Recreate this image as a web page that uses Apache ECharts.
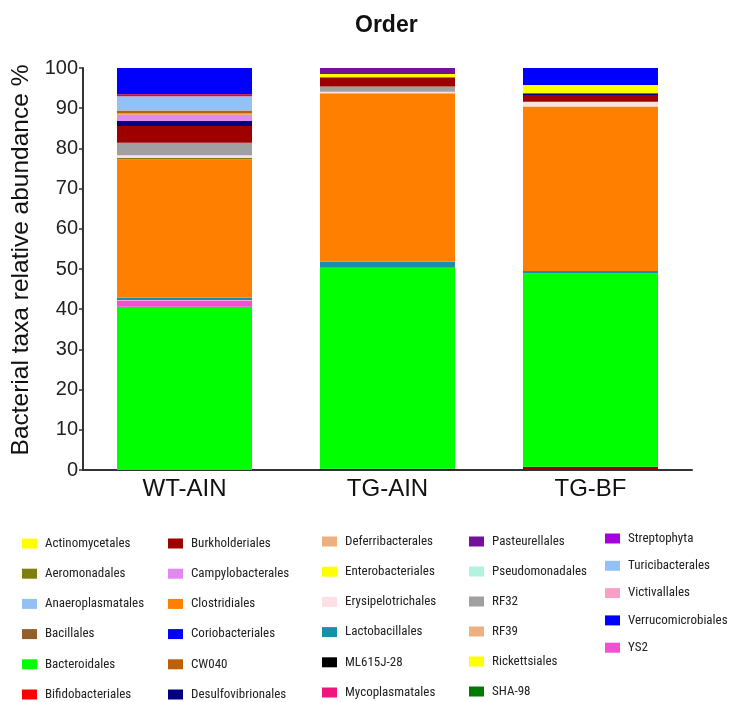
<!DOCTYPE html>
<html>
<head>
<meta charset="utf-8">
<script src="https://cdn.jsdelivr.net/npm/echarts@6/dist/echarts.min.js"></script>
<style>
  html, body { margin: 0; padding: 0; background: #fff; }
  #chart { width: 732px; height: 702px; }
</style>
</head>
<body>
<div id="chart"></div>
<script>
// Groups on the x axis
const categories = ['WT-AIN', 'TG-AIN', 'TG-BF'];
const yTicks = [0, 10, 20, 30, 40, 50, 60, 70, 80, 90, 100];

// Relative abundance (%) of each bacterial order per group
const actinomycetales    = [0, 0, 0];
const aeromonadales      = [0.4, 0, 0];
const anaeroplasmatales  = [3.6, 0, 0];
const bacillales         = [0, 0, 0];
const bacteroidales      = [40.6, 50.0, 48.1];
const bifidobacteriales  = [0.5, 0, 0];
const burkholderiales    = [4.2, 2.3, 1.7];
const burkholderialesLow = [0, 0, 0.8];
const campylobacterales  = [1.5, 0, 0];
const clostridiales      = [34.4, 41.9, 40.9];
const coriobacteriales   = [0, 0, 0];
const cw040              = [0.7, 0, 0];
const desulfovibrionales = [1.2, 0, 0.4];
const desulfoLow         = [0, 0.3, 0];
const deferribacterales  = [0, 0, 0];
const enterobacteriales  = [0, 0.8, 2.1];
const erysipelotrichales = [0.6, 0.4, 1.2];
const lactobacillales    = [0.6, 1.5, 0.6];
const ml615j28           = [0, 0, 0];
const mycoplasmatales    = [0, 0, 0];
const pasteurellales     = [0, 1.5, 0];
const pseudomonadales    = [0, 0, 0];
const rf32               = [3.1, 1.3, 0];
const rf39               = [0.4, 0, 0];
const rickettsiales      = [0, 0, 0];
const sha98              = [0, 0, 0];
const streptophyta       = [0, 0, 0];
const turicibacterales   = [0, 0, 0];
const victivallales      = [0.2, 0, 0];
const verrucomicrobiales = [6.5, 0, 4.2];
const ys2                = [1.5, 0, 0];

// Fill colour per order
const palette = {
  'Actinomycetales': '#FFFF00',
  'Aeromonadales': '#7F7F10',
  'Anaeroplasmatales': '#93C0F5',
  'Bacillales': '#925F2C',
  'Bacteroidales': '#00FF00',
  'Bifidobacteriales': '#FF0000',
  'Burkholderiales': '#9E0000',
  'Campylobacterales': '#DE8AF0',
  'Clostridiales': '#FF8000',
  'Coriobacteriales': '#0000FF',
  'CW040': '#BE5F0A',
  'Desulfovibrionales': '#000080',
  'Deferribacterales': '#EDB07E',
  'Enterobacteriales': '#FFFF00',
  'Erysipelotrichales': '#FDE0E4',
  'Lactobacillales': '#1A90A8',
  'ML615J-28': '#000000',
  'Mycoplasmatales': '#F0147E',
  'Pasteurellales': '#74119A',
  'Pseudomonadales': '#B2F2DE',
  'RF32': '#A0A0A0',
  'RF39': '#EDB07E',
  'Rickettsiales': '#FFFF00',
  'SHA-98': '#007A00',
  'Streptophyta': '#A800DC',
  'Turicibacterales': '#93C0F5',
  'Victivallales': '#F6A0C8',
  'Verrucomicrobiales': '#0000FF',
  'YS2': '#F24FD2'
};

// Stacking order, bottom to top
const stackOrder = [
  ['Desulfovibrionales', desulfoLow],
  ['Burkholderiales', burkholderialesLow],
  ['Bacteroidales', bacteroidales],
  ['YS2', ys2],
  ['Victivallales', victivallales],
  ['Lactobacillales', lactobacillales],
  ['Clostridiales', clostridiales],
  ['Aeromonadales', aeromonadales],
  ['Erysipelotrichales', erysipelotrichales],
  ['RF32', rf32],
  ['Burkholderiales', burkholderiales],
  ['Desulfovibrionales', desulfovibrionales],
  ['Campylobacterales', campylobacterales],
  ['RF39', rf39],
  ['CW040', cw040],
  ['Anaeroplasmatales', anaeroplasmatales],
  ['Enterobacteriales', enterobacteriales],
  ['Bifidobacteriales', bifidobacteriales],
  ['Verrucomicrobiales', verrucomicrobiales],
  ['Pasteurellales', pasteurellales],
  ['Actinomycetales', actinomycetales],
  ['Bacillales', bacillales],
  ['Coriobacteriales', coriobacteriales],
  ['Deferribacterales', deferribacterales],
  ['ML615J-28', ml615j28],
  ['Mycoplasmatales', mycoplasmatales],
  ['Pseudomonadales', pseudomonadales],
  ['Rickettsiales', rickettsiales],
  ['SHA-98', sha98],
  ['Streptophyta', streptophyta],
  ['Turicibacterales', turicibacterales]
];

// Legend columns
const legendColumns = [
  ['Actinomycetales', 'Aeromonadales', 'Anaeroplasmatales', 'Bacillales', 'Bacteroidales', 'Bifidobacteriales'],
  ['Burkholderiales', 'Campylobacterales', 'Clostridiales', 'Coriobacteriales', 'CW040', 'Desulfovibrionales'],
  ['Deferribacterales', 'Enterobacteriales', 'Erysipelotrichales', 'Lactobacillales', 'ML615J-28', 'Mycoplasmatales'],
  ['Pasteurellales', 'Pseudomonadales', 'RF32', 'RF39', 'Rickettsiales', 'SHA-98'],
  ['Streptophyta', 'Turicibacterales', 'Victivallales', 'Verrucomicrobiales', 'YS2']
];

const legendLayout = [
  { left: 22, top: 537, itemGap: 17.2 },
  { left: 168, top: 537, itemGap: 17.2 },
  { left: 322, top: 535, itemGap: 17.2 },
  { left: 469, top: 535, itemGap: 17 },
  { left: 605, top: 532, itemGap: 14.3 }
];

const font = '"Liberation Sans", Arial, Helvetica, sans-serif';
const legendFont = '"Roboto Condensed", "Liberation Sans Narrow", "Arial Narrow", sans-serif';

const series = stackOrder.map(([name, values]) => ({
  name: name,
  type: 'bar',
  stack: 'total',
  barWidth: '66.5%',
  data: values,
  itemStyle: { color: palette[name] },
  emphasis: { disabled: true }
}));

const legends = legendColumns.map((names, i) => ({
  orient: 'vertical',
  left: legendLayout[i].left,
  top: legendLayout[i].top,
  padding: 0,
  itemGap: legendLayout[i].itemGap,
  itemWidth: 15,
  itemHeight: 10,
  icon: 'rect',
  selectedMode: false,
  data: names.map(n => ({ name: n, itemStyle: { color: palette[n] } })),
  textStyle: { fontFamily: legendFont, fontSize: 13, color: '#222', padding: [0, 0, 0, 3] }
}));

const chart = echarts.init(document.getElementById('chart'), null, { renderer: 'canvas' });
chart.setOption({
  backgroundColor: '#ffffff',
  animation: false,
  title: {
    text: 'Order',
    left: 350,
    top: 9,
    textStyle: { fontFamily: font, fontSize: 23, fontWeight: 'bold', color: '#111' }
  },
  legend: legends,
  grid: { left: 83, right: 40, top: 68, bottom: 232, containLabel: false },
  xAxis: {
    type: 'category',
    data: categories,
    axisLine: { lineStyle: { color: '#333', width: 2 } },
    axisTick: { show: false },
    axisLabel: { fontFamily: font, fontSize: 24, color: '#111', margin: 7 }
  },
  yAxis: {
    type: 'value',
    min: yTicks[0],
    max: yTicks[yTicks.length - 1],
    interval: yTicks[1] - yTicks[0],
    name: 'Bacterial taxa relative abundance %',
    nameLocation: 'middle',
    nameGap: 31,
    nameTextStyle: { fontFamily: font, fontSize: 24.5, color: '#111', padding: [0, 0, 0, 18] },
    axisLine: { show: true, lineStyle: { color: '#333', width: 2 } },
    axisTick: { show: true, inside: false, length: 4, lineStyle: { color: '#333', width: 1.5 } },
    axisLabel: { fontFamily: font, fontSize: 20, color: '#222', margin: 5 },
    splitLine: { show: false }
  },
  series: series
});
</script>
</body>
</html>
